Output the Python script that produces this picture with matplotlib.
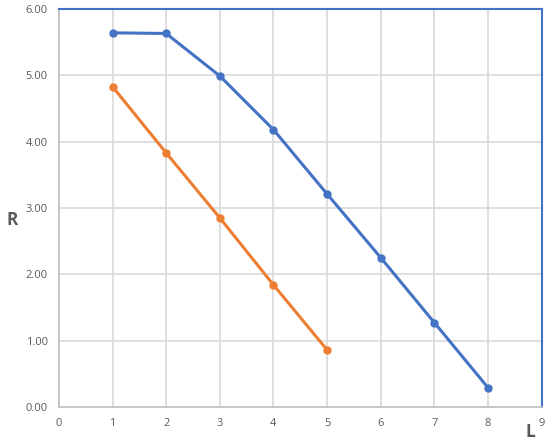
import matplotlib
matplotlib.use("Agg")
import matplotlib.pyplot as plt

# data
L_blue = [1, 2, 3, 4, 5, 6, 7, 8]
R_blue = [5.64, 5.63, 4.99, 4.18, 3.21, 2.25, 1.27, 0.29]
L_orange = [1, 2, 3, 4, 5]
R_orange = [4.83, 3.83, 2.85, 1.84, 0.86]
x_ticks = list(range(0, 10))
y_ticks = [0, 1, 2, 3, 4, 5, 6]

BLUE = "#4472C4"
ORANGE = "#ED7D31"
GRID = "#D9D9D9"
TXT = "#595959"

plt.rcParams["font.family"] = ["Open Sans", "DejaVu Sans"]

fig = plt.figure(figsize=(5.5, 4.47), dpi=100)
ax = fig.add_axes([0.107, 0.0895, 0.878, 0.8905])

ax.plot(L_blue, R_blue, color=BLUE, lw=2.2, marker="o", ms=5, zorder=3)
ax.plot(L_orange, R_orange, color=ORANGE, lw=2.2, marker="o", ms=5, zorder=3)

ax.set_xlim(0, 9)
ax.set_ylim(0, 6)
ax.set_xticks(x_ticks)
ax.set_yticks(y_ticks)
ax.set_yticklabels([f"{v:.2f}" for v in y_ticks])
ax.grid(True, color=GRID, lw=1.2)
ax.set_axisbelow(True)
ax.tick_params(length=0, labelsize=8, labelcolor=TXT, pad=8)

for s in ["left", "bottom"]:
    ax.spines[s].set_color("#BFBFBF")
    ax.spines[s].set_linewidth(1.2)
for s in ["top", "right"]:
    ax.spines[s].set_color(BLUE)
    ax.spines[s].set_linewidth(1.5)

fig.text(0.022, 0.508, "R", fontsize=12.5, fontweight="bold", color=TXT, ha="center", va="center")
fig.text(0.965, 0.033, "L", fontsize=12.5, fontweight="bold", color=TXT, ha="center", va="center")

fig.savefig("out.png", dpi=100)
